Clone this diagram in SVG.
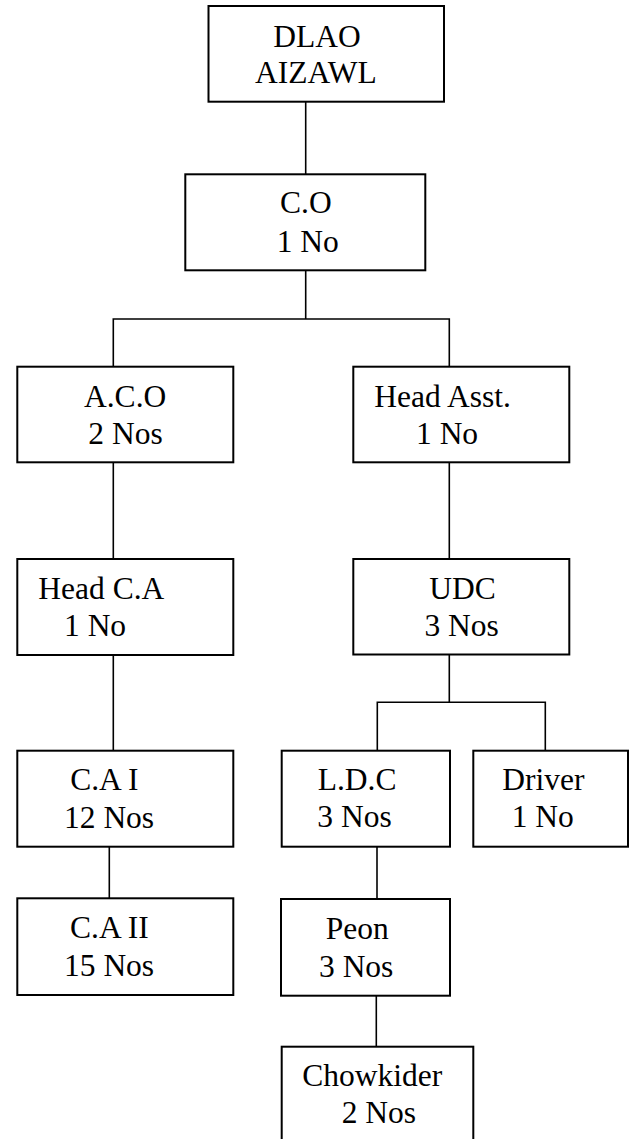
<svg xmlns="http://www.w3.org/2000/svg" width="629" height="1139" viewBox="0 0 629 1139">
<style>
.box{fill:#fff;stroke:#000;stroke-width:2}
.ln{fill:none;stroke:#000;stroke-width:1.6}
text{font-family:"Liberation Serif","Times New Roman",serif;font-size:31.5px;fill:#000}
</style>
<rect width="629" height="1139" fill="#fff"/>
<g id="connectors">
<path class="ln" d="M305.7 101.7V174.3"/>
<path class="ln" d="M305.7 270.3V319M113.3 366.7V319H449.3V366.7"/>
<path class="ln" d="M113.3 462.3V559"/>
<path class="ln" d="M449.3 462.3V559"/>
<path class="ln" d="M113.3 655V750.7"/>
<path class="ln" d="M449.3 654.5V702.3M377.3 750.7V702.3H545.3V750.7"/>
<path class="ln" d="M109.3 846.7V898.3"/>
<path class="ln" d="M377 846.7V899"/>
<path class="ln" d="M376.3 995.7V1046.7"/>
</g>
<g id="dlao"><rect class="box" x="208.5" y="6" width="235.5" height="95.7"/><text x="273.3" y="46.7">DLAO</text><text x="255" y="83.3">AIZAWL</text></g>
<g id="co"><rect class="box" x="185.3" y="174.3" width="240" height="96"/><text x="280" y="213.3">C.O</text><text x="276.7" y="251.7">1 No</text></g>
<g id="aco"><rect class="box" x="17.3" y="366.7" width="216" height="95.6"/><text x="84" y="406.7">A.C.O</text><text x="88.3" y="444">2 Nos</text></g>
<g id="headasst"><rect class="box" x="353.3" y="366.7" width="216" height="95.6"/><text x="374.3" y="406.7">Head Asst.</text><text x="416" y="444">1 No</text></g>
<g id="headca"><rect class="box" x="17.3" y="559" width="216" height="96"/><text x="38.3" y="598.5">Head C.A</text><text x="64" y="636">1 No</text></g>
<g id="udc"><rect class="box" x="353.3" y="559" width="216" height="95.5"/><text x="429.2" y="598.5">UDC</text><text x="424.4" y="636">3 Nos</text></g>
<g id="cai"><rect class="box" x="17.3" y="750.7" width="216" height="96"/><text x="70.2" y="790.3">C.A I</text><text x="64" y="827.7">12 Nos</text></g>
<g id="ldc"><rect class="box" x="281.7" y="750.7" width="168.3" height="96"/><text x="317.7" y="790">L.D.C</text><text x="317.3" y="827.3">3 Nos</text></g>
<g id="driver"><rect class="box" x="473.3" y="750.7" width="154.7" height="96"/><text x="502.3" y="790">Driver</text><text x="511.7" y="827.3">1 No</text></g>
<g id="caii"><rect class="box" x="17.3" y="898.3" width="216" height="96.7"/><text x="70" y="937.7">C.A II</text><text x="64" y="976">15 Nos</text></g>
<g id="peon"><rect class="box" x="281" y="899" width="169" height="96.7"/><text x="325.7" y="939.3">Peon</text><text x="319" y="976.7">3 Nos</text></g>
<g id="chowkider"><rect class="box" x="281.7" y="1046.7" width="191.6" height="110"/><text x="302.3" y="1086">Chowkider</text><text x="341.7" y="1123.3">2 Nos</text></g>
</svg>
